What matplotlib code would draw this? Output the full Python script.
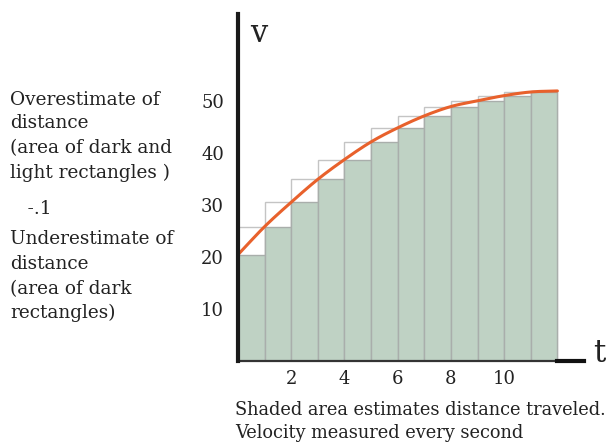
import matplotlib
matplotlib.use("Agg")
import matplotlib.pyplot as plt
import numpy as np

# Data
t_points = [0, 1, 2, 3, 4, 5, 6, 7, 8, 9, 10, 11, 12]
velocity = [20.4, 25.8, 30.5, 34.9, 38.7, 42.1, 44.8, 47.1, 48.9, 50.0, 51.0, 51.7, 51.9]
x_ticks = [2, 4, 6, 8, 10]
x_tick_labels = ["2", "4", "6", "8", "10"]
y_ticks = [10, 20, 30, 40, 50]
y_tick_labels = ["10", "20", "30", "40", "50"]
left_lines = ["Overestimate of", "distance", "(area of dark and", "light rectangles )",
              "   -.1", "Underestimate of", "distance", "(area of dark", "rectangles)"]
caption = ["Shaded area estimates distance traveled.", "Velocity measured every second"]

FONT = "DejaVu Serif"
W, H = 613, 444
fig = plt.figure(figsize=(W / 100, H / 100), dpi=100)
ax_l, ax_r, ax_t, ax_b = 238, 584, 14, 360.7
ax = fig.add_axes([ax_l / W, 1 - ax_b / H, (ax_r - ax_l) / W, (ax_b - ax_t) / H])
ax.set_xlim(0, 13)
ax.set_ylim(0, 66.7)
for s in ax.spines.values():
    s.set_visible(False)

left_edges = t_points[:-1]
under = velocity[:-1]
over = velocity[1:]
ax.bar(left_edges, over, width=1, align="edge", color="white", edgecolor="#c4c4c4", linewidth=1, zorder=1)
ax.bar(left_edges, under, width=1, align="edge", color="#bfd2c4", edgecolor="#a9aeab", linewidth=1, zorder=2)

# smooth rendering of the measured curve (Catmull-Rom through the data points)
tp = np.array(t_points, float)
vp = np.array(velocity, float)
px = np.concatenate([[2 * tp[0] - tp[1]], tp, [2 * tp[-1] - tp[-2]]])
py = np.concatenate([[2 * vp[0] - vp[1]], vp, [2 * vp[-1] - vp[-2]]])
cx, cy = [], []
s = np.linspace(0, 1, 12, endpoint=False)
for i in range(1, len(px) - 2):
    for arr, out in ((px, cx), (py, cy)):
        p0, p1, p2, p3 = arr[i - 1], arr[i], arr[i + 1], arr[i + 2]
        out.extend(0.5 * (2 * p1 + (-p0 + p2) * s + (2 * p0 - 5 * p1 + 4 * p2 - p3) * s ** 2
                          + (-p0 + 3 * p1 - 3 * p2 + p3) * s ** 3))
cx.append(tp[-1]); cy.append(vp[-1])
ax.plot(cx, cy, color="#e8612c", lw=2.2, zorder=4, solid_capstyle="round")

# axes lines
ax.plot([0, 12], [0, 0], color="#333333", lw=1.6, zorder=5, clip_on=False)
ax.plot([12, 13], [0, 0], color="#111111", lw=3, zorder=5, clip_on=False)
ax.plot([0, 0], [0, 66.7], color="#1a1a1a", lw=3, zorder=5, clip_on=False)

ax.set_xticks(x_ticks)
ax.set_xticklabels(x_tick_labels, fontfamily=FONT, fontsize=13)
ax.set_yticks(y_ticks)
ax.set_yticklabels(y_tick_labels, fontfamily=FONT, fontsize=13)
ax.tick_params(axis="both", length=0, colors="#222222")
ax.tick_params(axis="x", pad=7)
ax.tick_params(axis="y", pad=10)

fig.text(259 / W, 1 - 33 / H, "v", fontfamily=FONT, fontsize=22, ha="center", va="center", color="#222222")
fig.text(599 / W, 1 - 354 / H, "t", fontfamily=FONT, fontsize=22, ha="center", va="center", color="#222222")

ys = [100, 123, 148, 173, 209, 239, 264, 289, 313]
for line, y in zip(left_lines, ys):
    fig.text(10 / W, 1 - y / H, line, fontfamily=FONT, fontsize=13.3, ha="left", va="center", color="#222222")

for line, y in zip(caption, [410, 433]):
    fig.text(235 / W, 1 - y / H, line, fontfamily=FONT, fontsize=12.8, ha="left", va="center", color="#222222")

fig.savefig("out.png", dpi=100)
